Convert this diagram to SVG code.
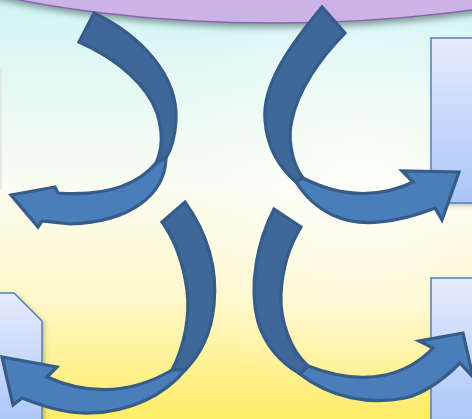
<svg xmlns="http://www.w3.org/2000/svg" width="472" height="419" viewBox="0 0 472 419">
<defs>
<linearGradient id="bg" x1="0" y1="0" x2="0" y2="1">
<stop offset="0" stop-color="#d2f5f5"/>
<stop offset="0.45" stop-color="#fbfdf2"/>
<stop offset="0.72" stop-color="#fff8c8"/>
<stop offset="1" stop-color="#ffec66"/>
</linearGradient>
<radialGradient id="hl" cx="360" cy="190" r="210" gradientUnits="userSpaceOnUse">
<stop offset="0" stop-color="#ffffff" stop-opacity="0.6"/>
<stop offset="1" stop-color="#ffffff" stop-opacity="0"/>
</radialGradient>
<linearGradient id="doc" x1="0" y1="0" x2="0" y2="1">
<stop offset="0" stop-color="#e6ebfc"/>
<stop offset="1" stop-color="#a9c5f8"/>
</linearGradient>
<filter id="sh" x="-10%" y="-10%" width="120%" height="140%">
<feGaussianBlur in="SourceAlpha" stdDeviation="3"/>
<feOffset dx="1" dy="4" result="b"/>
<feFlood flood-color="#3a5a50" flood-opacity="0.55"/>
<feComposite in2="b" operator="in"/>
<feMerge><feMergeNode/><feMergeNode in="SourceGraphic"/></feMerge>
</filter>
<filter id="dsh" x="-20%" y="-20%" width="140%" height="140%">
<feGaussianBlur in="SourceAlpha" stdDeviation="2"/>
<feOffset dx="2" dy="2" result="b"/>
<feFlood flood-color="#505050" flood-opacity="0.35"/>
<feComposite in2="b" operator="in"/>
<feMerge><feMergeNode/><feMergeNode in="SourceGraphic"/></feMerge>
</filter>
</defs>
<style>
.back{fill:#3e6898;stroke:#365c8a;stroke-width:3.2;stroke-linejoin:miter}
.front{fill:#4a7ebb;stroke:#365c8a;stroke-width:3.2;stroke-linejoin:miter}
.doc{fill:url(#doc);stroke:#4f81bd;stroke-width:1.5}
</style>
<rect x="0" y="0" width="472" height="419" fill="url(#bg)"/>
<rect x="0" y="0" width="472" height="419" fill="url(#hl)"/>

<g id="top-ellipse">
<ellipse cx="275" cy="-120" rx="470" ry="143" fill="#cbb3e6" stroke="#8a63b0" stroke-width="1.5" filter="url(#sh)"/>
</g>

<g id="doc-left-top">
<rect x="-20" y="68" width="22" height="122" fill="#dde0d8" opacity="0.6"/>
</g>
<g id="doc-right-top">
<path class="doc" d="M431,38 L480,38 L480,203 L446,203 L431,191 Z" filter="url(#dsh)"/>
</g>
<g id="doc-left-bottom">
<path class="doc" d="M-10,293 L14,293 L42,321 L42,430 L-10,430 Z" filter="url(#dsh)"/>
</g>
<g id="doc-right-bottom">
<path class="doc" d="M431,278 L480,278 L480,430 L431,430 Z" filter="url(#dsh)"/>
</g>

<g id="connectors">
<g id="arrow-top-left">
<path class="back" d="M94,13 C140,35 178,75 176,120 C175,138 171,150 166,158 L156,163 C163,148 163,132 157,113 C148,87 120,60 79,42 Z"/>
<path class="front" d="M166,158 C165,195 130,222 70,224 L42,221 L38,227 L11,195 L55,187 L58,193 C100,196 135,188 156,163 Z"/>
</g>
<g id="arrow-top-right">
<path class="back" d="M322,7 C290,45 262,85 265,120 C267,148 280,168 296,182 L303,178 C290,160 288,135 292,120 C298,90 320,58 345,33 Z"/>
<path class="front" d="M296,182 C315,212 345,226 380,222 C400,220 420,214 435,208 L442,220 L459,172 L402,171 L413,182 C385,196 345,200 303,178 Z"/>
</g>
<g id="arrow-bottom-left">
<path class="back" d="M185,202 C205,230 218,265 214,305 C211,335 200,355 185,370 L172,370 C185,345 190,315 187,290 C183,262 175,240 162,222 Z"/>
<path class="front" d="M185,370 C165,395 130,412 90,413 C65,414 40,405 22,398 L13,405 L2,357 L57,367 L47,377 C80,392 125,398 172,370 Z"/>
</g>
<g id="arrow-bottom-right">
<path class="back" d="M274,209 C258,240 248,285 258,322 C265,345 280,362 300,374 L308,366 C290,350 280,320 281,295 C282,268 290,245 301,227 Z"/>
<path class="front" d="M300,374 C330,398 370,405 405,398 C425,393 445,378 460,363 L473,377 L463,333 L419,341 L433,348 C410,372 370,390 308,366 Z"/>
</g>
</g>
</svg>
